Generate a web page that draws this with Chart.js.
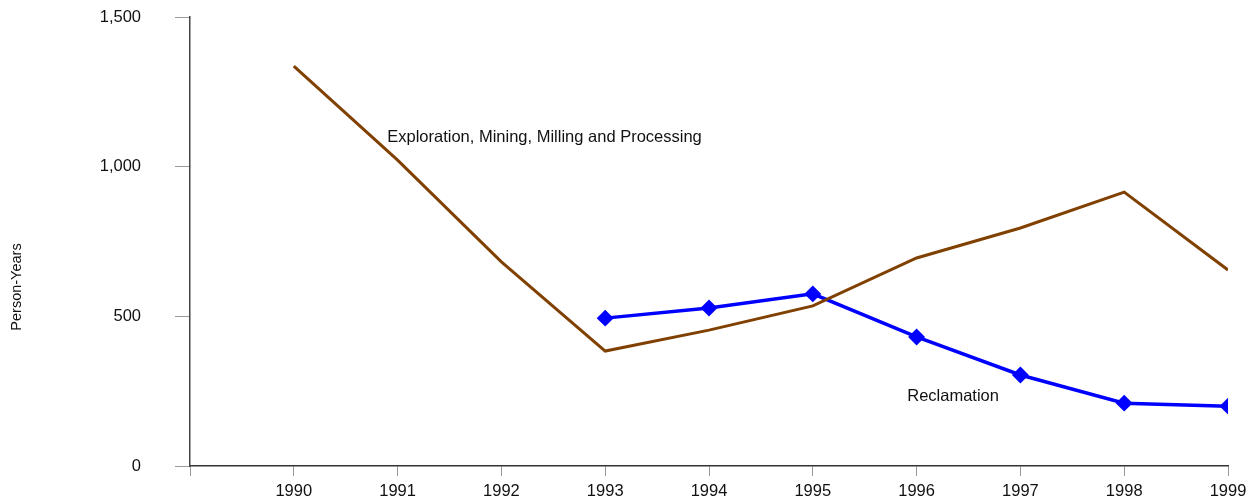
<!DOCTYPE html>
<html>
<head>
<meta charset="utf-8">
<script src="https://cdn.jsdelivr.net/npm/chart.js@4"></script>
<style>
  html, body { margin: 0; padding: 0; background: #fff; }
  #wrap { width: 1247px; height: 504px; }
</style>
</head>
<body>
<div id="wrap"><canvas id="jobs-chart"></canvas></div>
<script>
// years and person-years
const years = [1990, 1991, 1992, 1993, 1994, 1995, 1996, 1997, 1998, 1999];
const exploration = [1336, 1022, 682, 384, 454, 535, 695, 795, 915, 655];
const reclamationYears = [1993, 1994, 1995, 1996, 1997, 1998, 1999];
const reclamation = [494, 528, 575, 431, 304, 210, 200];
const yTicks = [0, 500, 1000, 1500];

// series labels, placed in data units
const notes = [
    { text: 'Exploration, Mining, Milling and Processing', x: 1990.9, y: 1099 },
    { text: 'Reclamation', x: 1995.91, y: 234 },
];
const yTitle = 'Person-Years';

const FONT = 'Liberation Sans, Arial, sans-serif';

const noteLabels = {
    id: 'noteLabels',
    afterDatasetsDraw(chart) {
        const ctx = chart.ctx;
        const xs = chart.scales.x, ys = chart.scales.y;
        ctx.save();
        ctx.font = '16.5px ' + FONT;
        ctx.fillStyle = '#111';
        ctx.textAlign = 'left';
        ctx.textBaseline = 'middle';
        notes.forEach(n => {
            ctx.fillText(n.text, xs.getPixelForValue(n.x), ys.getPixelForValue(n.y));
        });
        // axis title, sits a bit below the middle of the axis
        ctx.translate(17, 287);
        ctx.rotate(-Math.PI / 2);
        ctx.textAlign = 'center';
        ctx.font = '14.5px ' + FONT;
        ctx.fillText(yTitle, 0, 0);
        ctx.restore();
    }
};

const data = {
    datasets: [
        {
            label: 'Exploration, Mining, Milling and Processing',
            data: years.map((x, i) => ({ x: x, y: exploration[i] })),
            borderColor: '#804000',
            borderWidth: 3,
            pointRadius: 0,
            tension: 0,
        },
        {
            label: 'Reclamation',
            data: reclamationYears.map((x, i) => ({ x: x, y: reclamation[i] })),
            borderColor: '#0000ff',
            backgroundColor: '#0000ff',
            borderWidth: 3.5,
            pointStyle: 'rectRot',
            pointRadius: 6,
            tension: 0,
        }
    ]
};

const config = {
    type: 'line',
    data,
    options: {
        responsive: true,
        maintainAspectRatio: false,
        animation: false,
        layout: {
            padding: { top: 17, right: 19, left: 0, bottom: 0 }
        },
        plugins: {
            legend: { display: false },
            tooltip: { enabled: false }
        },
        scales: {
            x: {
                type: 'linear',
                min: 1989,
                max: 1999,
                afterFit(scale) {
                    scale.height = 38;
                    scale.paddingLeft = 0;
                    scale.paddingRight = 0;
                },
                afterBuildTicks(scale) {
                    scale.ticks = [1989].concat(years).map(v => ({ value: v }));
                },
                ticks: {
                    padding: 6,
                    color: '#111',
                    font: { family: FONT, size: 16.5 },
                    maxRotation: 0,
                    autoSkip: false,
                    callback: v => (v === 1989 ? '' : String(v))
                },
                grid: {
                    drawOnChartArea: false,
                    drawTicks: true,
                    tickLength: 10,
                    color: '#999'
                },
                border: { color: '#333', width: 1.5 }
            },
            y: {
                min: 0,
                max: 1500,
                afterFit(scale) {
                    scale.width = 190;
                    scale.paddingTop = 0;
                    scale.paddingBottom = 0;
                },
                afterBuildTicks(scale) {
                    scale.ticks = yTicks.map(v => ({ value: v }));
                },
                ticks: {
                    padding: 34,
                    color: '#111',
                    font: { family: FONT, size: 16.5 },
                    callback: v => v.toLocaleString('en-US')
                },
                grid: {
                    drawOnChartArea: false,
                    drawTicks: true,
                    tickLength: 15,
                    color: '#999'
                },
                border: { color: '#444', width: 1.5 }
            }
        }
    },
    plugins: [noteLabels]
};

const jobsChart = new Chart(document.getElementById('jobs-chart'), config);
</script>
</body>
</html>
